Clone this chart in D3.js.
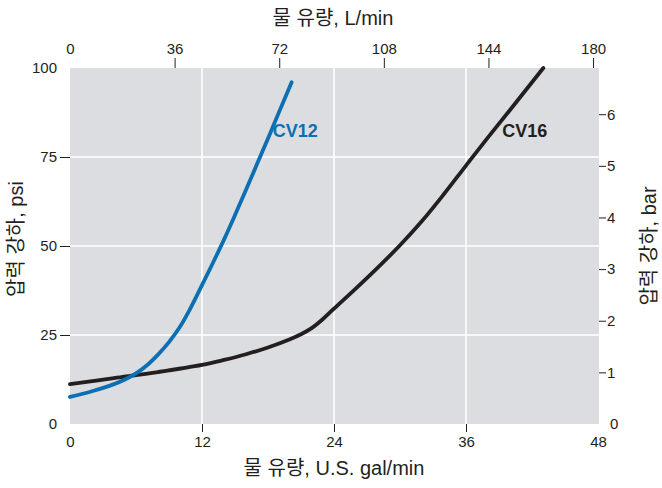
<!DOCTYPE html>
<html><head><meta charset="utf-8">
<script src="https://cdn.jsdelivr.net/npm/d3@7"></script>
<style>
html,body{margin:0;padding:0;background:#fff;}
svg text{font-family:"Liberation Sans","Noto Sans CJK KR",Arial,sans-serif;fill:#231f20;}
</style></head>
<body>
<svg id="chart" width="662" height="488"></svg>
<script>
// ---- data ----
const cv12Flow = [0, 2, 4, 5, 6, 7, 8, 9, 10, 11, 12, 13, 14, 15, 16, 17, 18, 19, 20.15];
const cv12Psi  = [7.6, 9.2, 11.2, 12.5, 14.2, 16.5, 19.5, 23.0, 27.3, 32.8, 39.0, 45.3, 51.8, 58.7, 65.8, 73.0, 80.2, 87.6, 96];
const cv16Flow = [0, 4, 8, 12, 14, 16, 18, 20, 21, 22, 23, 24, 26, 28, 30, 32, 34, 36, 38, 40, 43.03];
const cv16Psi  = [11.2, 12.9, 14.6, 16.6, 18.0, 19.6, 21.5, 23.8, 25.2, 27.0, 29.5, 32.4, 38.1, 44.0, 50.2, 57.0, 64.6, 72.6, 80.5, 88.2, 100];
const seriesNames = ["CV12", "CV16"];
const gpmTicks = [0, 12, 24, 36, 48];
const lpmTicks = [0, 36, 72, 108, 144, 180];
const psiTicks = [0, 25, 50, 75, 100];
const barTicks = [0, 1, 2, 3, 4, 5, 6];
const titleTop = "물 유량, L/min";
const titleBottom = "물 유량, U.S. gal/min";
const titleLeft = "압력 강하, psi";
const titleRight = "압력 강하, bar";

// ---- layout ----
const L = 70, R = 598, T = 68, B = 424;
const LPM_PER_GAL = 3.785411784, PSI_PER_BAR = 14.5038;
const svg = d3.select("#chart");
const x = d3.scaleLinear().domain([0, 48]).range([L, R]);
const xTop = d3.scaleLinear().domain([0, 48 * LPM_PER_GAL]).range([L, R]);
const y = d3.scaleLinear().domain([0, 100]).range([B, T]);
const yBar = d3.scaleLinear().domain([0, 100 / PSI_PER_BAR]).range([B, T]);

svg.append("rect").attr("x", L).attr("y", T).attr("width", R - L + 1).attr("height", B - T)
  .attr("fill", "#dcdde0");

// grid
svg.append("g").selectAll("line").data(gpmTicks.filter(d => d > 0 && d < 48)).join("line")
  .attr("x1", d => x(d)).attr("x2", d => x(d)).attr("y1", T).attr("y2", B)
  .attr("stroke", "#fff").attr("stroke-width", 1.5);
svg.append("g").selectAll("line").data(psiTicks.filter(d => d > 0 && d < 100)).join("line")
  .attr("x1", L).attr("x2", R + 1).attr("y1", d => y(d)).attr("y2", d => y(d))
  .attr("stroke", "#fff").attr("stroke-width", 1.5);

function styleAxis(g, size) {
  g.select(".domain").remove();
  g.selectAll(".tick line").attr("stroke", "#231f20").attr("stroke-width", 1);
  g.selectAll(".tick text").attr("font-size", size).attr("fill", "#231f20")
    .attr("font-family", "Liberation Sans, Arial, sans-serif");
}

// bottom axis
const gB = svg.append("g").attr("transform", `translate(0,${B})`)
  .call(d3.axisBottom(x).tickValues(gpmTicks).tickSize(8).tickPadding(4));
styleAxis(gB, 15);
gB.selectAll(".tick").filter(d => d === 0 || d === 48).select("line").remove();

// top axis
const gT = svg.append("g").attr("transform", `translate(0,${T})`)
  .call(d3.axisTop(xTop).tickValues(lpmTicks).tickSize(10).tickPadding(4));
styleAxis(gT, 15);
gT.selectAll(".tick").filter(d => d === 0).select("line").remove();

// left axis
const gL = svg.append("g").attr("transform", `translate(${L},0)`)
  .call(d3.axisLeft(y).tickValues(psiTicks).tickSize(10).tickPadding(3));
styleAxis(gL, 15);
gL.selectAll(".tick").filter(d => d === 0 || d === 100).select("line").remove();
gL.selectAll(".tick").filter(d => d === 0 || d === 100).select("text").attr("x", -13);

// right axis
const gR = svg.append("g").attr("transform", `translate(${R + 1},0)`)
  .call(d3.axisRight(yBar).tickValues(barTicks).tickFormat(d3.format("d")).tickSize(7).tickPadding(1));
styleAxis(gR, 15);
gR.selectAll(".tick").filter(d => d === 0).select("line").remove();
gR.selectAll(".tick").filter(d => d === 0).select("text").attr("x", 11);

// curves
const line = d3.line().x(d => x(d[0])).y(d => y(d[1])).curve(d3.curveCatmullRom.alpha(0.5));
const cv12 = cv12Flow.map((f, i) => [f, cv12Psi[i]]);
const cv16 = cv16Flow.map((f, i) => [f, cv16Psi[i]]);
svg.append("path").datum(cv16).attr("d", line).attr("fill", "none")
  .attr("stroke", "#231f20").attr("stroke-width", 3.8).attr("stroke-linecap", "round");
svg.append("path").datum(cv12).attr("d", line).attr("fill", "none")
  .attr("stroke", "#0b6fb2").attr("stroke-width", 3.8).attr("stroke-linecap", "round");

// series labels
svg.append("text").attr("x", x(18.43)).attr("y", y(80.5)).text(seriesNames[0])
  .attr("font-size", 18).attr("font-weight", "bold").style("fill", "#0b6fb2");
svg.append("text").attr("x", x(39.3)).attr("y", y(80.5)).text(seriesNames[1])
  .attr("font-size", 18).attr("font-weight", "bold").style("fill", "#231f20");

// titles
svg.append("text").attr("x", 333).attr("y", 25).attr("text-anchor", "middle")
  .attr("font-size", 20).text(titleTop);
svg.append("text").attr("x", 334).attr("y", 475).attr("text-anchor", "middle")
  .attr("font-size", 20).text(titleBottom);
svg.append("text").attr("transform", "translate(23,239) rotate(-90)").attr("text-anchor", "middle")
  .attr("font-size", 20).text(titleLeft);
svg.append("text").attr("transform", "translate(656,246) rotate(-90)").attr("text-anchor", "middle")
  .attr("font-size", 20).text(titleRight);
</script>
</body></html>
